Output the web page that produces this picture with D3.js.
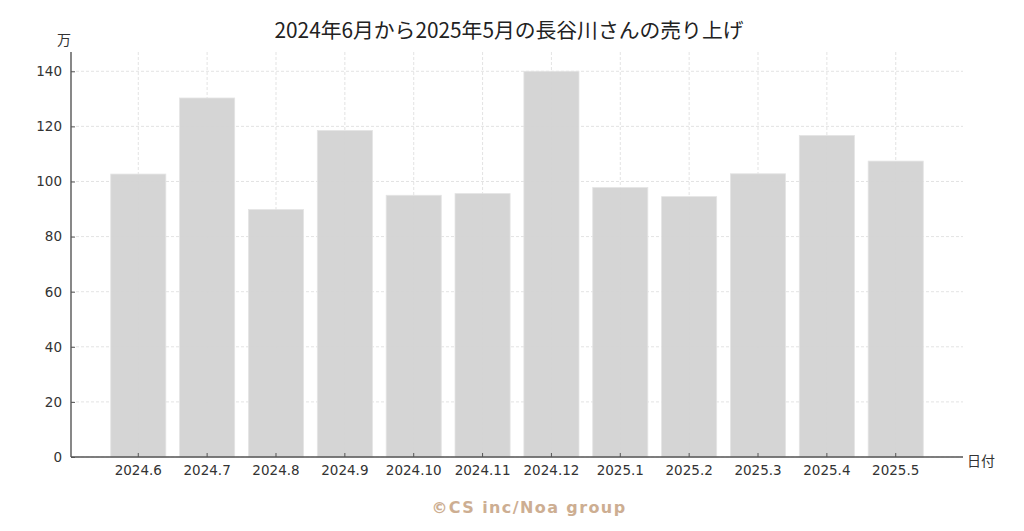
<!DOCTYPE html>
<html><head><meta charset="utf-8">
<script src="https://cdn.jsdelivr.net/npm/d3@7"></script>
<style>body{margin:0;background:#fff}svg{display:block}</style>
</head><body><svg id="c" width="1024" height="531"></svg>
<script>
const categories = ["2024.6","2024.7","2024.8","2024.9","2024.10","2024.11","2024.12","2025.1","2025.2","2025.3","2025.4","2025.5"];
const sales = [102.7,130.3,89.8,118.5,95.0,95.6,140.0,97.8,94.5,102.8,116.7,107.4];
const yTicks = [0,20,40,60,80,100,120,140];
const titleText = "2024年6月から2025年5月の長谷川さんの売り上げ";
const yLabel = "万";
const xLabel = "日付";
const credit = "©CS inc/Noa group";

const svg = d3.select("#c");
const L = 71, R = 963, T = 52, B = 457;
const x = d3.scaleBand().domain(categories).range([L, R]).paddingInner(0.2).paddingOuter(0.577);
const y = d3.scaleLinear().domain([0, 147]).range([B, T]);
const tickFont = "'DejaVu Sans', sans-serif";

// grid
const g = svg.append("g");
g.selectAll(".hg").data(yTicks).join("line")
  .attr("x1", L).attr("x2", R).attr("y1", d => y(d)).attr("y2", d => y(d))
  .attr("stroke", "#dcdcdc").attr("stroke-width", 0.8).attr("stroke-dasharray", "3,2");
g.selectAll(".vg").data(categories).join("line")
  .attr("x1", d => x(d) + x.bandwidth()/2).attr("x2", d => x(d) + x.bandwidth()/2)
  .attr("y1", T).attr("y2", B)
  .attr("stroke", "#dcdcdc").attr("stroke-width", 0.8).attr("stroke-dasharray", "3,2");

// bars
svg.append("g").selectAll("rect").data(sales).join("rect")
  .attr("x", (d,i) => x(categories[i]))
  .attr("width", x.bandwidth())
  .attr("y", d => y(d))
  .attr("height", d => B - y(d))
  .attr("fill", "#d3d3d3").attr("fill-opacity", 0.95)
  .attr("stroke", "#e4e4e4").attr("stroke-width", 0.8);

// axes
const ya = svg.append("g").attr("transform", `translate(${L},0)`)
  .call(d3.axisLeft(y).tickValues(yTicks).tickSizeInner(-4).tickSizeOuter(0).tickPadding(9));
const xa = svg.append("g").attr("transform", `translate(0,${B})`)
  .call(d3.axisBottom(x).tickSizeInner(-4).tickSizeOuter(0).tickPadding(8));
[ya, xa].forEach(a => {
  a.select(".domain").attr("stroke", "#555").attr("stroke-width", 1.4);
  a.selectAll(".tick line").attr("stroke", "#555").attr("stroke-width", 1);
  a.selectAll("text").attr("fill", "#333").style("font-family", tickFont).style("font-size", "13.5px");
});
xa.select(".domain").attr("d", `M${L},0H${R}`);
ya.select(".domain").attr("d", `M0,${B}V${T}`);

// labels
svg.append("text").attr("x", 509).attr("y", 38).attr("text-anchor", "middle")
  .style("font-family", "'Noto Sans CJK JP', sans-serif").style("font-size", "20.8px").attr("fill", "#222")
  .text(titleText);
svg.append("text").attr("x", 64).attr("y", 45).attr("text-anchor", "middle")
  .style("font-family", "'Noto Sans CJK JP', sans-serif").style("font-size", "14px").attr("fill", "#333")
  .text(yLabel);
svg.append("text").attr("x", 967).attr("y", 466)
  .style("font-family", "'Noto Sans CJK JP', sans-serif").style("font-size", "14px").attr("fill", "#333")
  .text(xLabel);
svg.append("text").attr("x", 529).attr("y", 513).attr("text-anchor", "middle")
  .style("font-family", "'DejaVu Sans', sans-serif").style("font-size", "16px").style("font-weight", "bold")
  .style("letter-spacing", "1.4px").attr("fill", "#cdae92")
  .text(credit);
</script></body></html>
